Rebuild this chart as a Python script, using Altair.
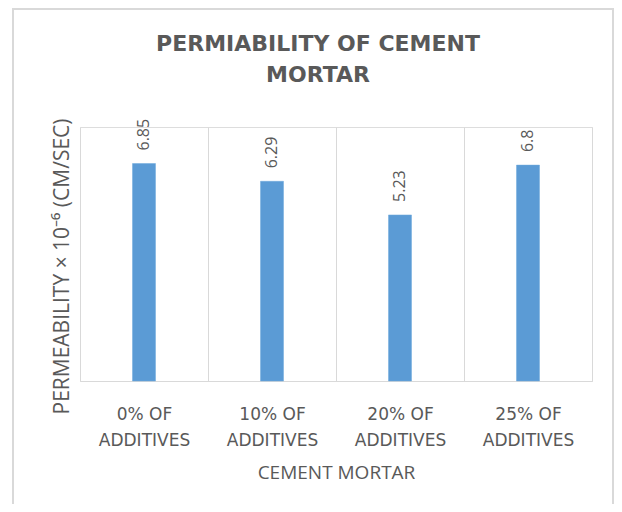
import altair as alt
import pandas as pd

categories = ["0% OF ADDITIVES", "10% OF ADDITIVES", "20% OF ADDITIVES", "25% OF ADDITIVES"]
values = [6.85, 6.29, 5.23, 6.8]
labels = ["6.85", "6.29", "5.23", "6.8"]

df = pd.DataFrame({"cat": categories, "val": values, "lab": labels})

GRAY = "#595959"
LINE = "#d9d9d9"

x = alt.X(
    "cat:N",
    sort=categories,
    scale=alt.Scale(paddingInner=0, paddingOuter=0),
    axis=alt.Axis(
        title="CEMENT MORTAR",
        labelAngle=0,
        labelExpr="isValid(datum.value) ? split(replace(datum.value, ' ADDITIVES', '|ADDITIVES'), '|') : ''",
        labelFont="DejaVu Sans",
        labelFontSize=17,
        labelColor=GRAY,
        labelLineHeight=26,
        labelPadding=25,
        ticks=False,
        domainColor=LINE,
        grid=True,
        gridColor=LINE,
        tickBand="extent",
        titleFont="Open Sans",
        titleFontSize=19,
        titleFontWeight="normal",
        titleColor=GRAY,
        titlePadding=15,
    ),
)
y = alt.Y(
    "val:Q",
    scale=alt.Scale(domain=[0, 8], nice=False),
    axis=alt.Axis(
        title="PERMEABILITY × 10⁻⁶ (CM/SEC)",
        labels=False,
        ticks=False,
        domain=False,
        grid=False,
        titleFont="Open Sans",
        titleFontSize=21,
        titleFontWeight="normal",
        titleColor=GRAY,
        titlePadding=8,
        titleY=139,
    ),
)

bars = alt.Chart(df).mark_bar(size=23, color="#5B9BD5", stroke="#6fa8dc", strokeWidth=0.5).encode(x=x, y=y)
text = alt.Chart(df).mark_text(
    angle=270, align="left", baseline="middle", dx=13,
    font="Open Sans", fontSize=16, color=GRAY,
).encode(x=alt.X("cat:N", sort=categories), y="val:Q", text="lab:N")

border = alt.Chart(alt.Data(values=[{"a": 1}])).mark_rect(
    fill=None, stroke=LINE, strokeWidth=2
).encode(
    x=alt.value(-67), x2=alt.value(533), y=alt.value(-118), y2=alt.value(400)
)

chart = alt.layer(border, bars, text).properties(
    width=512,
    height=254,
    title=alt.TitleParams(
        ["PERMIABILITY OF CEMENT", "MORTAR"],
        font="DejaVu Sans",
        fontSize=22,
        fontWeight="bold",
        color=GRAY,
        lineHeight=31,
        anchor="middle",
        dx=-18,
        offset=-79,
    ),
    autosize=alt.AutoSizeParams(type="none"),
    padding={"left": 72, "top": 119, "right": 22, "bottom": 123},
).configure_view(stroke=None).configure(background="white")

chart.save("out.html", embed_options={"renderer": "svg", "actions": False})
